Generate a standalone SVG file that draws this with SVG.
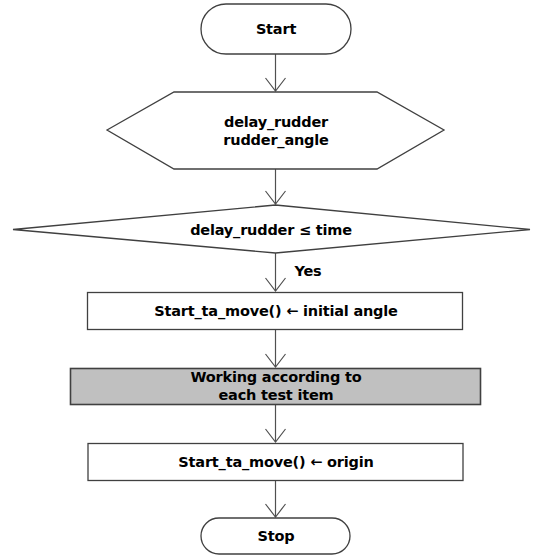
<svg xmlns="http://www.w3.org/2000/svg" width="534" height="555" viewBox="0 0 534 555">
<defs>
<style>
.sh{fill:#fff;stroke:#404040;stroke-width:1.3}
.gr{fill:#c0c0c0;stroke:#404040;stroke-width:1.6}
.t{font-family:"DejaVu Sans","Noto Sans CJK KR",sans-serif;font-weight:bold;font-size:14.5px;letter-spacing:-0.2px;fill:#000;text-anchor:middle}
.c{stroke:#505050;stroke-width:1.2;fill:none}
</style>
</defs>
<rect width="534" height="555" fill="#fff"/>
<g id="connectors">
<line class="c" x1="275.5" y1="54" x2="275.5" y2="91"/>
<line class="c" x1="275.5" y1="169" x2="275.5" y2="204"/>
<line class="c" x1="275.5" y1="253" x2="275.5" y2="291"/>
<line class="c" x1="275.5" y1="329" x2="275.5" y2="367"/>
<line class="c" x1="275.5" y1="404" x2="275.5" y2="442"/>
<line class="c" x1="275.5" y1="480" x2="275.5" y2="517"/>
<path d="M265.5,78 L275.5,91 L285.5,78" class="c"/>
<path d="M265.5,191 L275.5,204 L285.5,191" class="c"/>
<path d="M265.5,278 L275.5,291 L285.5,278" class="c"/>
<path d="M265.5,354 L275.5,367 L285.5,354" class="c"/>
<path d="M265.5,429 L275.5,442 L285.5,429" class="c"/>
<path d="M265.5,504 L275.5,517 L285.5,504" class="c"/>
<text class="t" x="308" y="276">Yes</text>
</g>
<g id="start">
<rect class="sh" x="201" y="4" width="150" height="50" rx="25" ry="25"/>
<text class="t" x="276" y="34">Start</text>
</g>
<g id="input">
<polygon class="sh" points="107,130 174,92 377,92 444,130 377,169 174,169"/>
<text class="t" x="276" y="127">delay_rudder</text>
<text class="t" x="276" y="145">rudder_angle</text>
</g>
<g id="decision">
<polygon class="sh" points="13,229.5 275.5,205 530,229.5 275.5,253"/>
<text class="t" x="271" y="235">delay_rudder ≤ time</text>
</g>
<g id="init">
<rect class="sh" x="87.5" y="292.5" width="375" height="37"/>
<text class="t" x="276" y="316">Start_ta_move() ← initial angle</text>
</g>
<g id="work">
<rect class="gr" x="70.5" y="368.5" width="410" height="36"/>
<text class="t" x="276" y="382">Working according to</text>
<text class="t" x="276" y="399.5">each test item</text>
</g>
<g id="origin">
<rect class="sh" x="88" y="443.5" width="375" height="37"/>
<text class="t" x="276" y="467">Start_ta_move() ← origin</text>
</g>
<g id="stop">
<rect class="sh" x="201" y="518" width="149" height="36" rx="18" ry="18"/>
<text class="t" x="276" y="541">Stop</text>
</g>
</svg>
